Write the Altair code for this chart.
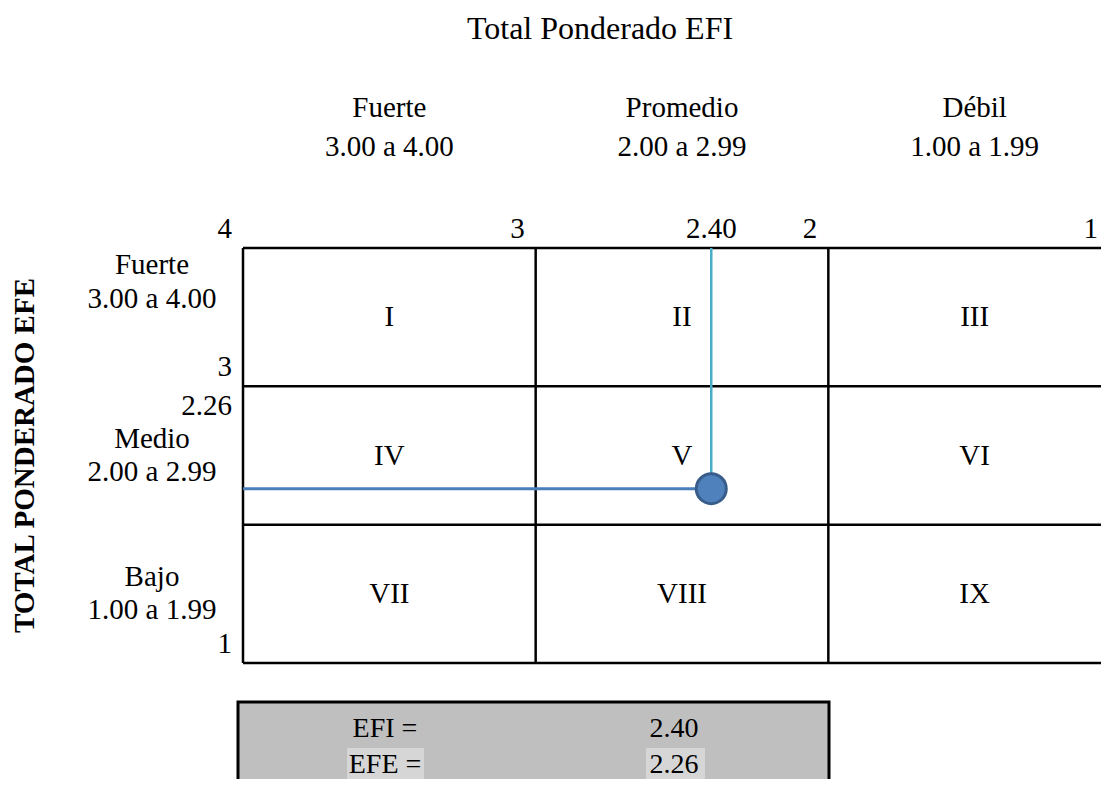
import altair as alt
import pandas as pd

# ---------------- data ----------------
chart_title = "Total Ponderado EFI"
y_title = "TOTAL PONDERADO EFE"
col_names = ["Fuerte", "Promedio", "Débil"]
col_ranges = ["3.00 a 4.00", "2.00 a 2.99", "1.00 a 1.99"]
col_mids = [3.5, 2.5, 1.5]
row_names = ["Fuerte", "Medio", "Bajo"]
row_ranges = ["3.00 a 4.00", "2.00 a 2.99", "1.00 a 1.99"]
row_mids = [3.5, 2.5, 1.5]
quadrants = ["I", "II", "III", "IV", "V", "VI", "VII", "VIII", "IX"]
grid_x = [4, 3, 2]
grid_y = [4, 3, 2, 1]
x_tick_vals = [4, 3, 2]
x_tick_labels = ["4", "3", "2"]
x_end_label = "1"
y_tick_vals = [3, 1]
y_tick_labels = ["3", "1"]
efi = 2.40
efe = 2.26
table_labels = ["EFI =", "EFE ="]
table_values = [efi, efe]

# ---------------- layout ----------------
FONT = "Liberation Serif"
FS = 29
W, H = 858, 415
PAD = {"left": 235, "top": 240, "right": 0, "bottom": 116}

# the matrix runs a little past the right edge of the page, as in the original
xs = alt.Scale(domain=[4, 1], range=[0, 878], nice=False, zero=False)
ys = alt.Scale(domain=[1, 4], nice=False, zero=False)


def X(f):
    return alt.X(f, type="quantitative", scale=xs, axis=None)


def Y(f):
    return alt.Y(f, type="quantitative", scale=ys, axis=None)


one = pd.DataFrame({"k": [0]})

vgrid = alt.Chart(pd.DataFrame({"v": grid_x})).mark_rule(
    color="black", strokeWidth=2.5
).encode(x=X("v"), y=alt.value(0), y2=alt.value(H))

hgrid = alt.Chart(pd.DataFrame({"v": grid_y})).mark_rule(
    color="black", strokeWidth=2.5
).encode(y=Y("v"), x=alt.value(0), x2=alt.value(W))

qdf = pd.DataFrame({
    "label": quadrants,
    "x": [c for _ in row_mids for c in col_mids],
    "y": [r for r in row_mids for _ in col_mids],
})
quad = alt.Chart(qdf).mark_text(
    font=FONT, fontSize=FS, color="black", baseline="middle", align="center"
).encode(x=X("x"), y=Y("y"), text="label:N")

hline = alt.Chart(pd.DataFrame({"x1": [4], "x2": [efi], "y": [efe]})).mark_rule(
    color="#4a7ebb", strokeWidth=3
).encode(x=X("x1"), x2="x2", y=Y("y"))

vline = alt.Chart(pd.DataFrame({"x": [efi], "y1": [4], "y2": [efe]})).mark_rule(
    color="#4bacc6", strokeWidth=2.5
).encode(x=X("x"), y=Y("y1"), y2="y2")

point = alt.Chart(pd.DataFrame({"x": [efi], "y": [efe]})).mark_circle(
    size=900, fill="#4f81bd", stroke="#385d8a", strokeWidth=3, opacity=1
).encode(x=X("x"), y=Y("y"))

xticks = alt.Chart(pd.DataFrame({"v": x_tick_vals, "t": x_tick_labels})).mark_text(
    font=FONT, fontSize=FS, align="right", baseline="alphabetic", dx=-11
).encode(x=X("v"), y=alt.value(-10), text="t:N")

x_end = alt.Chart(one).mark_text(
    font=FONT, fontSize=FS, align="right", baseline="alphabetic", dx=-3, text=x_end_label
).encode(x=alt.value(W), y=alt.value(-10))

efi_lab = alt.Chart(pd.DataFrame({"v": [efi]})).mark_text(
    font=FONT, fontSize=FS, align="center", baseline="alphabetic"
).encode(x=X("v"), y=alt.value(-10), text=alt.Text("v:Q", format=".2f"))

yticks = alt.Chart(pd.DataFrame({"v": y_tick_vals, "t": y_tick_labels})).mark_text(
    font=FONT, fontSize=FS, align="right", baseline="alphabetic", dy=-10
).encode(x=alt.value(-11), y=Y("v"), text="t:N")

efe_lab = alt.Chart(pd.DataFrame({"v": [efe]})).mark_text(
    font=FONT, fontSize=FS, align="right", baseline="alphabetic", dy=29
).encode(x=alt.value(-11), y=alt.Y(datum=3, scale=ys, axis=None),
         text=alt.Text("v:Q", format=".2f"))

cdf = pd.DataFrame({"x": col_mids,
                    "t": [f"{n}\n{r}" for n, r in zip(col_names, col_ranges)]})
col_head = alt.Chart(cdf).mark_text(
    font=FONT, fontSize=FS, align="center", baseline="alphabetic",
    lineBreak="\n", lineHeight=39
).encode(x=X("x"), y=alt.value(-131), text="t:N")

rdf = pd.DataFrame({"y": row_mids,
                    "t": [f"{n}\n{r}" for n, r in zip(row_names, row_ranges)]})
row_top = alt.Chart(rdf.iloc[:1]).mark_text(
    font=FONT, fontSize=FS, align="center", baseline="alphabetic",
    lineBreak="\n", lineHeight=34, dy=-43
).encode(x=alt.value(-91), y=Y("y"), text="t:N")
row_rest = alt.Chart(rdf.iloc[1:]).mark_text(
    font=FONT, fontSize=FS, align="center", baseline="alphabetic",
    lineBreak="\n", lineHeight=33, dy=-8
).encode(x=alt.value(-91), y=Y("y"), text="t:N")

title = alt.Chart(one).mark_text(
    font=FONT, fontSize=32, align="center", baseline="alphabetic", text=chart_title
).encode(x=alt.value(357), y=alt.value(-209))

ytitle = alt.Chart(one).mark_text(
    font=FONT, fontSize=FS, fontWeight="bold", align="center", baseline="middle",
    angle=270, text=y_title
).encode(x=alt.value(-218), y=alt.value(H / 2))

# summary table below the matrix
box = alt.Chart(one).mark_rect(
    fill="#bfbfbf", stroke="black", strokeWidth=3
).encode(x=alt.value(-5), x2=alt.value(586), y=alt.value(454), y2=alt.value(560))

hl = alt.Chart(pd.DataFrame({"a": [104, 403], "b": [181, 462]})).mark_rect(
    fill="#d6d6d6"
).encode(x=alt.X("a:Q", scale=None, axis=None), x2="b:Q",
         y=alt.value(500), y2=alt.value(540))

trow = alt.Scale(domain=[0, 1], range=[481, 517])
tdf = pd.DataFrame({"lab": table_labels,
                    "val": [f"{v:.2f}" for v in table_values],
                    "row": [0, 1]})
t_lab = alt.Chart(tdf).mark_text(
    font=FONT, fontSize=28, align="center", baseline="middle"
).encode(x=alt.value(142), y=alt.Y("row:Q", scale=trow, axis=None), text="lab:N")
t_val = alt.Chart(tdf).mark_text(
    font=FONT, fontSize=28, align="center", baseline="middle"
).encode(x=alt.value(431), y=alt.Y("row:Q", scale=trow, axis=None), text="val:N")

chart = alt.layer(
    box, hl, t_lab, t_val,
    vgrid, hgrid, quad, hline, vline, point,
    xticks, x_end, efi_lab, yticks, efe_lab, col_head, row_top, row_rest, title, ytitle,
).resolve_scale(y="independent").properties(
    width=W, height=H, padding=PAD,
    autosize=alt.AutoSizeParams(type="none"),
    background="white",
).configure_view(stroke=None)

chart.save("out.html", embed_options={"renderer": "svg", "actions": False})
